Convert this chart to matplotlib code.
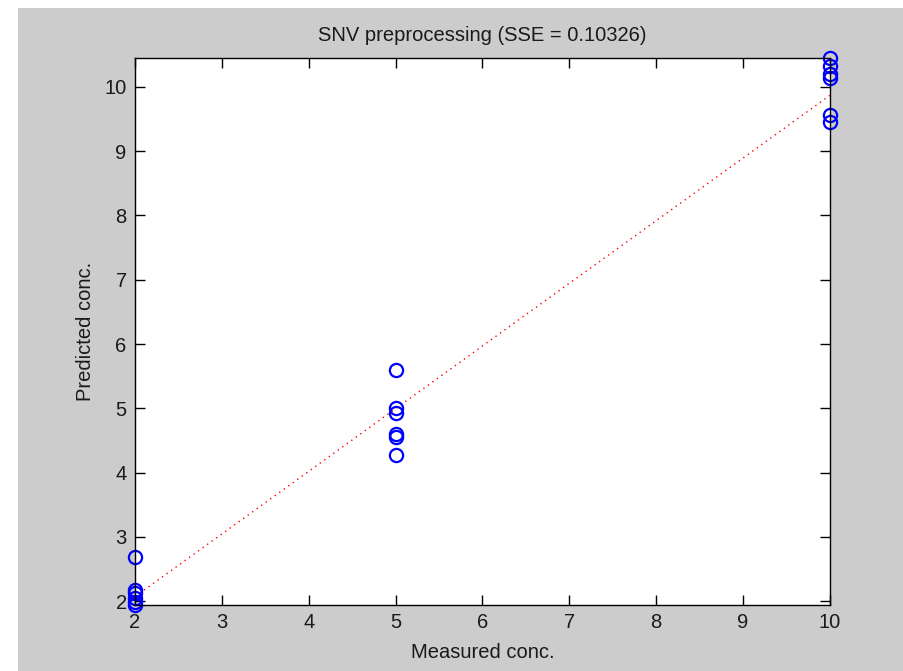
import matplotlib.pyplot as plt
from matplotlib.patches import Rectangle

# measured vs predicted concentrations
measured = [2, 2, 2, 2, 2, 2,
            5, 5, 5, 5, 5, 5,
            10, 10, 10, 10, 10, 10]
predicted = [2.68, 2.18, 2.12, 2.05, 1.98, 1.94,
             5.60, 5.00, 4.93, 4.60, 4.56, 4.28,
             10.45, 10.32, 10.20, 10.14, 9.56, 9.45]

# fitted line (slope, intercept)
fit_coef = [0.975, 0.12]
fit_x = [2, 10]

title = "SNV preprocessing (SSE = 0.10326)"

plt.rcParams['font.family'] = ['Liberation Sans', 'DejaVu Sans']
txt = "#1a1a1a"

fig = plt.figure(figsize=(9.04, 6.71), dpi=100, facecolor="white")
fig.patches.append(Rectangle((18 / 904, 0), 1, 1 - 8 / 671, transform=fig.transFigure,
                             facecolor="#cccccc", edgecolor="none", zorder=-10))

ax = fig.add_axes([135 / 904, 1 - 605 / 671, (830 - 135) / 904, (605 - 58) / 671])
fit_y = [fit_coef[0] * x + fit_coef[1] for x in fit_x]
ax.plot(fit_x, fit_y, linestyle=(0, (1, 3)), color="red", linewidth=1)
ax.plot(measured, predicted, "o", markerfacecolor="none", markeredgecolor="blue",
        markersize=9.5, markeredgewidth=1.6, clip_on=False)

ax.set_xlim(2, 10)
ax.set_ylim(min(predicted), max(predicted))
ax.set_xticks(range(2, 11))
ax.set_yticks(range(2, 11))
ax.tick_params(direction="in", length=7, width=1, top=True, right=True,
               labelsize=14.5, colors="black", labelcolor=txt)
ax.tick_params(axis="x", pad=6)
ax.tick_params(axis="y", pad=6)
for s in ax.spines.values():
    s.set_linewidth(1)
ax.set_title(title, fontsize=14.5, pad=12, color=txt)
ax.set_xlabel("Measured conc.", fontsize=14.5, labelpad=8, color=txt)
ax.set_ylabel("Predicted conc.", fontsize=14.5, labelpad=7, color=txt)

fig.savefig("out.png", dpi=100, facecolor=fig.get_facecolor())
